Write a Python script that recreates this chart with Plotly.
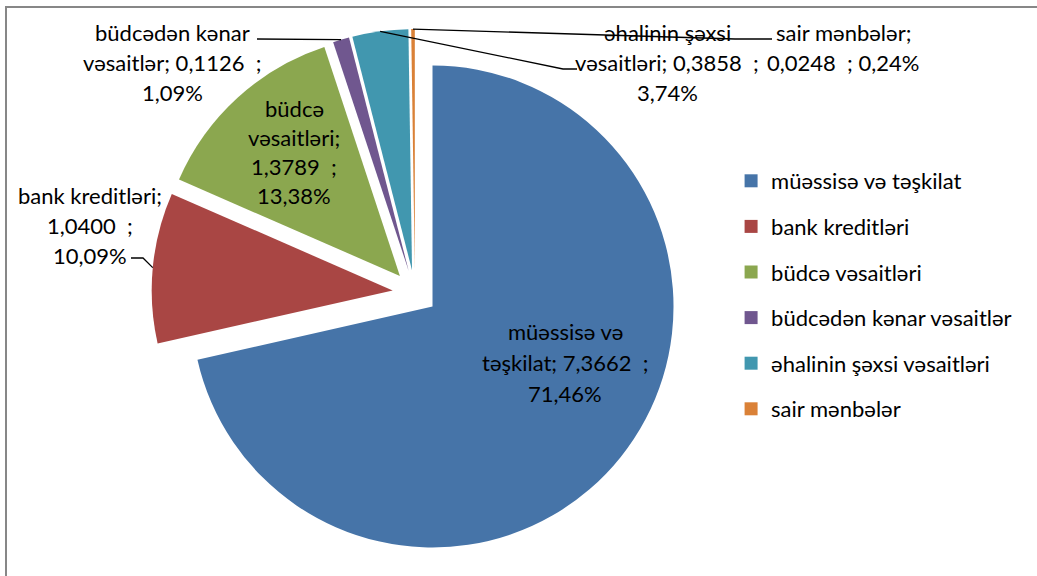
import math
import plotly.graph_objects as go

# data
labels = ["müəssisə və təşkilat", "bank kreditləri", "büdcə vəsaitləri",
          "büdcədən kənar vəsaitlər", "əhalinin şəxsi vəsaitləri", "sair mənbələr"]
values = [7.3662, 1.0400, 1.3789, 0.1126, 0.3858, 0.0248]
colors = ["#4674A8", "#A94644", "#8BA74F", "#70578F", "#4197AF", "#DA8137"]

W, H = 1037, 576
FONT = "Lato"
FS = 22

# pie geometry in pixels (center, radius, pull as fraction of radius)
CX, CY, R, PULL = 415, 292.5, 241, 0.093
half = R * (1 + PULL)

# how each data label wraps (words per line), where it sits, leader line bends
wrap = [[2, 2, 1], [2, 1, 1], [1, 1, 1, 1], [2, 2, 1], [2, 2, 1], [2, 2]]
lab_pos = [(565, 331, 31), (90, 195, 30), (294, 108, 29),
           (172, 32, 30), (667, 32, 30), (843, 32, 30)]
leaders = [None, [(143, 258), (131, 258)], None,
           [(257, 39)], [(563, 69), (577, 69)], [(735, 39), (772, 39)]]

total = sum(values)

def fmt(v, d):
    return f"{v:.{d}f}".replace(".", ",")

fig = go.Figure()

fig.add_trace(go.Pie(
    labels=labels, values=values, sort=False, direction="clockwise", rotation=0,
    marker=dict(colors=colors, line=dict(width=0)),
    pull=[PULL] * len(values), textinfo="none", showlegend=False,
    domain=dict(x=[(CX - 320) / W, (CX + 320) / W],
                y=[1 - (CY + half) / H, 1 - (CY - half) / H]),
))

# legend entries
for name, c in zip(labels, colors):
    fig.add_trace(go.Scatter(x=[None], y=[None], mode="markers", name=name,
                             legendgroup=name,
                             marker=dict(symbol="square", size=13, color=c)))

annotations = []
shapes = []
cum = 0
for i, (name, v) in enumerate(zip(labels, values)):
    words = name.split(" ")
    words[-1] = words[-1] + ";"
    words += [fmt(v, 4) + "  ;", fmt(100 * v / total, 2) + "%"]
    x0, y0, step = lab_pos[i]
    k = 0
    for j, n in enumerate(wrap[i]):
        annotations.append(dict(x=x0, y=y0 + j * step, xref="x", yref="y",
                                text=" ".join(words[k:k + n]), showarrow=False,
                                font=dict(family=FONT, size=FS, color="#000")))
        k += n
    mid = (cum + v / 2) / total * 2 * math.pi
    cum += v
    if leaders[i]:
        dist = R * (1 + PULL)
        sx, sy = CX + dist * math.sin(mid), CY - dist * math.cos(mid)
        pts = [(sx, sy)] + leaders[i]
        path = "M " + " L ".join(f"{px},{py}" for px, py in pts)
        shapes.append(dict(type="path", path=path, xref="x", yref="y",
                           line=dict(color="#000", width=1.3)))

# chart frame
shapes.append(dict(type="rect", xref="x", yref="y", x0=6, y0=7, x1=1045, y1=585,
                   line=dict(color="#878787", width=2)))

fig.update_layout(
    width=W, height=H, margin=dict(l=0, r=0, t=0, b=0),
    paper_bgcolor="white", plot_bgcolor="white",
    xaxis=dict(range=[0, W], visible=False, fixedrange=True),
    yaxis=dict(range=[H, 0], visible=False, fixedrange=True),
    annotations=annotations, shapes=shapes,
    legend=dict(x=0.705, y=1 - 160 / H, xanchor="left", yanchor="top",
                font=dict(family=FONT, size=FS, color="#000"),
                tracegroupgap=14, itemwidth=30, bgcolor="rgba(0,0,0,0)"),
    font=dict(family=FONT),
)

fig.write_html("out.html", config={"displayModeBar": False},
               post_script="document.body.style.margin='0';")
